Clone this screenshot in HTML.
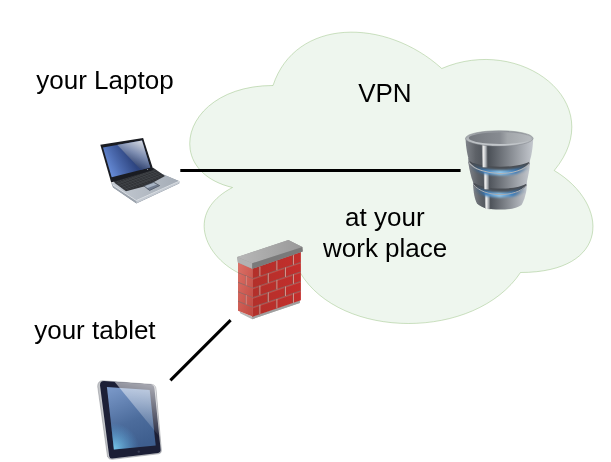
<!DOCTYPE html>
<html><head><meta charset="utf-8">
<style>
html,body{margin:0;padding:0;background:#fff;width:611px;height:462px;overflow:hidden}
svg{display:block;will-change:transform}
text{font-family:"Liberation Sans",sans-serif;fill:#000}
</style></head><body>
<svg width="611" height="462" viewBox="0 0 611 462">
<defs>
<linearGradient id="scr" gradientUnits="userSpaceOnUse" x1="104" y1="165" x2="128" y2="152">
<stop offset="0" stop-color="#6a90dc"/><stop offset="0.5" stop-color="#4a68ac"/><stop offset="1" stop-color="#2e4580"/>
</linearGradient>
<linearGradient id="glare" gradientUnits="userSpaceOnUse" x1="142" y1="141" x2="130" y2="166">
<stop offset="0" stop-color="#d4d8e0"/><stop offset="0.5" stop-color="#7c8cb0"/><stop offset="1" stop-color="#283a68"/>
</linearGradient>
<linearGradient id="base" x1="0" y1="0" x2="1" y2="0">
<stop offset="0" stop-color="#c4cad2"/><stop offset="1" stop-color="#a4acb6"/>
</linearGradient>
<linearGradient id="dbbody1" gradientUnits="userSpaceOnUse" x1="465.5" y1="0" x2="533.2" y2="0">
<stop offset="0" stop-color="#80848a"/><stop offset="0.15" stop-color="#5e6268"/><stop offset="0.33" stop-color="#4a4f56"/><stop offset="1" stop-color="#c4c8ce"/>
</linearGradient>
<linearGradient id="dbbody2" gradientUnits="userSpaceOnUse" x1="468.3" y1="0" x2="530" y2="0">
<stop offset="0" stop-color="#80848a"/><stop offset="0.15" stop-color="#5e6268"/><stop offset="0.31" stop-color="#4a4f56"/><stop offset="1" stop-color="#c4c8ce"/>
</linearGradient>
<linearGradient id="dbbody3" gradientUnits="userSpaceOnUse" x1="473" y1="0" x2="527" y2="0">
<stop offset="0" stop-color="#80848a"/><stop offset="0.15" stop-color="#5e6268"/><stop offset="0.3" stop-color="#4a4f56"/><stop offset="1" stop-color="#c4c8ce"/>
</linearGradient>
<linearGradient id="dbtop" x1="0" y1="0" x2="1" y2="0">
<stop offset="0" stop-color="#74787e"/><stop offset="0.5" stop-color="#878b91"/><stop offset="0.62" stop-color="#a2a6aa"/><stop offset="1" stop-color="#b6babe"/>
</linearGradient>
<linearGradient id="dbstripe" x1="0" y1="0" x2="1" y2="0">
<stop offset="0" stop-color="#8a8e92"/><stop offset="0.3" stop-color="#eeeeee"/><stop offset="0.6" stop-color="#b8bcc0"/><stop offset="1" stop-color="#55595f"/>
</linearGradient>
<radialGradient id="glow" cx="0.5" cy="0.5" r="0.5">
<stop offset="0" stop-color="#8ed0ff"/><stop offset="0.6" stop-color="#3a84c8"/><stop offset="1" stop-color="#3a84c8" stop-opacity="0"/>
</radialGradient>
<linearGradient id="brickF" x1="0" y1="0" x2="1" y2="0">
<stop offset="0" stop-color="#b2302a"/><stop offset="1" stop-color="#c42e2c"/>
</linearGradient>
<linearGradient id="brickL" x1="0" y1="0" x2="1" y2="1">
<stop offset="0" stop-color="#dc7268"/><stop offset="1" stop-color="#c04840"/>
</linearGradient>
<linearGradient id="capTop" gradientUnits="userSpaceOnUse" x1="240" y1="0" x2="300" y2="0">
<stop offset="0" stop-color="#b6b6b6"/><stop offset="1" stop-color="#9a9a9a"/>
</linearGradient>
<linearGradient id="tscr" gradientUnits="userSpaceOnUse" x1="110" y1="388" x2="135" y2="448">
<stop offset="0" stop-color="#7a98c8"/><stop offset="0.6" stop-color="#4c6c9c"/><stop offset="1" stop-color="#3e5e8e"/>
</linearGradient>
<radialGradient id="tcyan" gradientUnits="userSpaceOnUse" cx="113" cy="449" r="26">
<stop offset="0" stop-color="#7cd0f0" stop-opacity="0.95"/><stop offset="1" stop-color="#5aa8e0" stop-opacity="0"/>
</radialGradient>
<linearGradient id="tglare" gradientUnits="userSpaceOnUse" x1="150" y1="384" x2="138" y2="430">
<stop offset="0" stop-color="#ffffff" stop-opacity="0.62"/><stop offset="1" stop-color="#ffffff" stop-opacity="0.08"/>
</linearGradient>
<linearGradient id="glowL1" gradientUnits="userSpaceOnUse" x1="474" y1="0" x2="526" y2="0">
<stop offset="0" stop-color="#2a5a8a" stop-opacity="0.2"/><stop offset="0.2" stop-color="#3a7cbc"/><stop offset="0.5" stop-color="#90ccf4"/><stop offset="0.8" stop-color="#3a7cbc"/><stop offset="1" stop-color="#2a5a8a" stop-opacity="0.2"/>
</linearGradient>
<linearGradient id="glowL2" gradientUnits="userSpaceOnUse" x1="477" y1="0" x2="522" y2="0">
<stop offset="0" stop-color="#2a5a8a" stop-opacity="0.2"/><stop offset="0.2" stop-color="#3a7cbc"/><stop offset="0.5" stop-color="#90ccf4"/><stop offset="0.8" stop-color="#3a7cbc"/><stop offset="1" stop-color="#2a5a8a" stop-opacity="0.2"/>
</linearGradient>
<filter id="blur1" x="-20%" y="-200%" width="140%" height="500%"><feGaussianBlur stdDeviation="0.8"/></filter>
<filter id="blur05" x="-10%" y="-10%" width="120%" height="120%"><feGaussianBlur stdDeviation="0.5"/></filter>
<linearGradient id="dbrim" x1="0" y1="0" x2="0" y2="1">
<stop offset="0" stop-color="#8e9298"/><stop offset="0.6" stop-color="#b4b8bc"/><stop offset="1" stop-color="#c8ccd0"/>
</linearGradient>
</defs>

<!-- cloud -->
<g transform="translate(160.5,0.5)">
<path d="M112.5 85 C22.5 85 0 170 72 187 C0 224.4 81 306 139.5 272 C180 340 315 340 360 272 C450 272 450 204 393.75 170 C450 102 360 34 281.25 68 C225 17 135 17 112.5 85 Z" fill="#d5e8d4" stroke="#82b366" fill-opacity="0.4" stroke-opacity="0.4"/>
</g>
<path d="M180.3 170.5 H460.6" stroke="#000" stroke-width="3"/>
<path d="M170.4 380.4 L230.6 320.1" stroke="#000" stroke-width="3"/>

<!-- laptop -->
<g id="laptop">
<polygon points="111.3,183.3 153.4,170.2 179.4,181.2 179.2,183.4 136.4,203.4 113,187.6" fill="#8a929c"/>
<polygon points="111.5,183.3 153.4,170.2 179.4,181.2 136.3,200.8 113.3,185.4" fill="url(#base)"/>
<polygon points="113.3,185.4 136.3,200.8 136.4,203.2 113.2,187.6" fill="#9ca4ae"/>
<polygon points="136.3,200.8 179.4,181.2 179.3,183.2 136.4,203.2" fill="#c4cad2"/>
<path d="M112.6 185 L136.3 200.6 L179.4 181.1" stroke="#eef0f4" stroke-width="0.7" fill="none"/>
<polygon points="113.8,181 153.2,167.8 165,176.1 153.5,182.2 144,186.5 126,191.3 114.8,183" fill="#303236"/>
<path d="M116.80 184.10 L155.56 170.10 M119.10 185.90 L157.92 171.60 M121.40 187.70 L160.28 173.10 M123.70 189.50 L162.64 174.60 M117.26 181.32 L128.79 190.21 M120.03 180.34 L131.57 189.13 M122.79 179.36 L134.36 188.04 M125.56 178.39 L137.14 186.96 M128.32 177.41 L139.93 185.87 M131.09 176.43 L142.71 184.79 M133.85 175.45 L145.50 183.70 M136.61 174.47 L148.29 182.61 M139.38 173.49 L151.07 181.53 M142.14 172.51 L153.86 180.44 M144.91 171.54 L156.64 179.36 M147.67 170.56 L159.43 178.27 M150.44 169.58 L162.21 177.19" stroke="#4c5056" stroke-width="0.45" fill="none"/>
<polygon points="143.9,185.9 153.7,182.3 159.6,185.6 149.6,190.4" fill="#a8b4c4" stroke="#3a404a" stroke-width="0.7"/>
<polygon points="146.5,188.4 156.5,184.7 159.6,185.6 149.6,190.4" fill="#5a6478" opacity="0.7"/>
<polygon points="100.3,144.8 143.1,138.1 153.4,169.9 111.2,182.5" fill="#1a1c22"/>
<polygon points="103,147.5 142,140.5 150.2,167.6 111.7,177.3" fill="url(#scr)"/>
<clipPath id="lscr"><polygon points="103,147.5 142,140.5 150.2,167.6 111.7,177.3"/></clipPath>
<polygon clip-path="url(#lscr)" points="115.5,143 145,138 155,170 141,170" fill="url(#glare)" filter="url(#blur05)"/>
<circle cx="147.6" cy="169.4" r="0.5" fill="#e0e4ea" opacity="0.8"/>
</g>

<!-- database -->
<g id="db">
<path d="M473 178 L473 184.4 C473.5 192 474.5 199 477 203.5 C481 208 490 209.6 499.5 209.6 C509 209.6 517 208.5 521.5 205 C524.5 200 526.5 192 527 185.2 L527 178 Z" fill="url(#dbbody3)"/>
<polygon points="484.6,190 490,190.3 490.4,209.3 485.2,209" fill="url(#dbstripe)"/>
<path d="M473 184.4 C484 198 516 198 527 185.2 C516 172 484 172 473 184.4 Z" fill="#4a4e54"/>
<path d="M476 188.5 C486 197 514 197 524 189" stroke="url(#glowL2)" stroke-width="5" fill="none" filter="url(#blur1)"/>
<path d="M473.2 184.2 C484 198 516 198 526.8 185" stroke="#a8acb2" stroke-width="1" fill="none"/>
<path d="M468.3 158 L468.3 162.7 C469.5 170 471 177 473 182 C484 190.5 516 190.5 526.5 183.5 C528 177 529.5 170 530 163.6 L530 158 Z" fill="url(#dbbody2)"/>
<polygon points="483.5,168 489,168.3 489.5,189.5 484.2,189.2" fill="url(#dbstripe)"/>
<path d="M468.3 162.7 C480 177 519 177 530 163.6 C519 150 480 150 468.3 162.7 Z" fill="#4a4e54"/>
<path d="M472 166 C483 175 516 175 527 166.5" stroke="url(#glowL1)" stroke-width="5" fill="none" filter="url(#blur1)"/>
<path d="M468.8 162.3 C480 177 519 177 529.6 163.3" stroke="#b0b4b8" stroke-width="1.1" fill="none"/>
<path d="M465.5 138.4 C466 148 467.5 156 469.3 160.8 C480 168.5 519 168.5 529.5 161.5 C531.5 156 532.8 148 533.2 138.4 Z" fill="url(#dbbody1)"/>
<polygon points="481.8,145 487.4,145.5 487.8,167.5 482.4,167.2" fill="url(#dbstripe)"/>
<ellipse cx="499.3" cy="138.4" rx="33.8" ry="7.7" fill="url(#dbrim)" stroke="#80848a" stroke-width="0.5"/>
<ellipse cx="499.9" cy="138.1" rx="31.1" ry="5.9" fill="url(#dbtop)"/>
</g>

<!-- firewall -->
<g id="fw">
<polygon points="239.8,311.5 252.2,316.5 299.8,300.3 299.8,303 252.2,319.2 240.2,313.2" fill="#b8b8b8"/>
<polygon points="252.2,316.5 299.8,300.3 299.8,303 252.2,319.2" fill="#a0a0a0"/>
<g transform="matrix(1,-0.34,0,1,0,86.15)">
<rect x="252.2" y="266.80" width="48.7" height="49.70" fill="url(#brickF)"/>
<line x1="252.2" y1="278.34" x2="300.9" y2="278.34" stroke="#8a6462" stroke-width="0.9" opacity="0.9"/>
<line x1="252.2" y1="279.14" x2="300.9" y2="279.14" stroke="#d8847c" stroke-width="0.5" opacity="0.6"/>
<line x1="252.2" y1="287.88" x2="300.9" y2="287.88" stroke="#8a6462" stroke-width="0.9" opacity="0.9"/>
<line x1="252.2" y1="288.68" x2="300.9" y2="288.68" stroke="#d8847c" stroke-width="0.5" opacity="0.6"/>
<line x1="252.2" y1="297.42" x2="300.9" y2="297.42" stroke="#8a6462" stroke-width="0.9" opacity="0.9"/>
<line x1="252.2" y1="298.22" x2="300.9" y2="298.22" stroke="#d8847c" stroke-width="0.5" opacity="0.6"/>
<line x1="252.2" y1="306.96" x2="300.9" y2="306.96" stroke="#8a6462" stroke-width="0.9" opacity="0.9"/>
<line x1="252.2" y1="307.76" x2="300.9" y2="307.76" stroke="#d8847c" stroke-width="0.5" opacity="0.6"/>
<line x1="259.20" y1="268.80" x2="259.20" y2="278.34" stroke="#8c4a44" stroke-width="0.8"/>
<line x1="259.90" y1="268.80" x2="259.90" y2="278.34" stroke="#d8a098" stroke-width="0.8"/>
<line x1="276.20" y1="268.80" x2="276.20" y2="278.34" stroke="#8c4a44" stroke-width="0.8"/>
<line x1="276.90" y1="268.80" x2="276.90" y2="278.34" stroke="#d8a098" stroke-width="0.8"/>
<line x1="292.80" y1="268.80" x2="292.80" y2="278.34" stroke="#8c4a44" stroke-width="0.8"/>
<line x1="293.50" y1="268.80" x2="293.50" y2="278.34" stroke="#d8a098" stroke-width="0.8"/>
<line x1="267.60" y1="278.34" x2="267.60" y2="287.88" stroke="#8c4a44" stroke-width="0.8"/>
<line x1="268.30" y1="278.34" x2="268.30" y2="287.88" stroke="#d8a098" stroke-width="0.8"/>
<line x1="284.80" y1="278.34" x2="284.80" y2="287.88" stroke="#8c4a44" stroke-width="0.8"/>
<line x1="285.50" y1="278.34" x2="285.50" y2="287.88" stroke="#d8a098" stroke-width="0.8"/>
<line x1="259.20" y1="287.88" x2="259.20" y2="297.42" stroke="#8c4a44" stroke-width="0.8"/>
<line x1="259.90" y1="287.88" x2="259.90" y2="297.42" stroke="#d8a098" stroke-width="0.8"/>
<line x1="276.20" y1="287.88" x2="276.20" y2="297.42" stroke="#8c4a44" stroke-width="0.8"/>
<line x1="276.90" y1="287.88" x2="276.90" y2="297.42" stroke="#d8a098" stroke-width="0.8"/>
<line x1="292.80" y1="287.88" x2="292.80" y2="297.42" stroke="#8c4a44" stroke-width="0.8"/>
<line x1="293.50" y1="287.88" x2="293.50" y2="297.42" stroke="#d8a098" stroke-width="0.8"/>
<line x1="267.60" y1="297.42" x2="267.60" y2="306.96" stroke="#8c4a44" stroke-width="0.8"/>
<line x1="268.30" y1="297.42" x2="268.30" y2="306.96" stroke="#d8a098" stroke-width="0.8"/>
<line x1="284.80" y1="297.42" x2="284.80" y2="306.96" stroke="#8c4a44" stroke-width="0.8"/>
<line x1="285.50" y1="297.42" x2="285.50" y2="306.96" stroke="#d8a098" stroke-width="0.8"/>
<line x1="259.20" y1="306.96" x2="259.20" y2="316.50" stroke="#8c4a44" stroke-width="0.8"/>
<line x1="259.90" y1="306.96" x2="259.90" y2="316.50" stroke="#d8a098" stroke-width="0.8"/>
<line x1="276.20" y1="306.96" x2="276.20" y2="316.50" stroke="#8c4a44" stroke-width="0.8"/>
<line x1="276.90" y1="306.96" x2="276.90" y2="316.50" stroke="#d8a098" stroke-width="0.8"/>
<line x1="292.80" y1="306.96" x2="292.80" y2="316.50" stroke="#8c4a44" stroke-width="0.8"/>
<line x1="293.50" y1="306.96" x2="293.50" y2="316.50" stroke="#d8a098" stroke-width="0.8"/>
</g>
<g transform="matrix(1,0.4,0,1,0,-100.88)">
<rect x="238" y="266.80" width="14.5" height="49.70" fill="url(#brickL)"/>
<line x1="238" y1="278.34" x2="252.2" y2="278.34" stroke="#8e6a68" stroke-width="0.9" opacity="0.9"/>
<line x1="238" y1="287.88" x2="252.2" y2="287.88" stroke="#8e6a68" stroke-width="0.9" opacity="0.9"/>
<line x1="238" y1="297.42" x2="252.2" y2="297.42" stroke="#8e6a68" stroke-width="0.9" opacity="0.9"/>
<line x1="238" y1="306.96" x2="252.2" y2="306.96" stroke="#8e6a68" stroke-width="0.9" opacity="0.9"/>
<line x1="245.60" y1="278.34" x2="245.60" y2="287.88" stroke="#9a5a56" stroke-width="0.7"/>
<line x1="246.20" y1="278.34" x2="246.20" y2="287.88" stroke="#eaa8a0" stroke-width="0.6"/>
<line x1="245.60" y1="297.42" x2="245.60" y2="306.96" stroke="#9a5a56" stroke-width="0.7"/>
<line x1="246.20" y1="297.42" x2="246.20" y2="306.96" stroke="#eaa8a0" stroke-width="0.6"/>
</g>
<polygon points="237.2,257.1 288.4,240.1 302.4,247 302.7,251.6 252.2,268.8 237.9,262.6" fill="#9c9c9c"/>
<polygon points="237.2,257.1 288.4,240.1 302.4,247 252.2,263.3" fill="url(#capTop)"/>
<polygon points="237.2,257.1 252.2,263.3 252.2,268.8 237.9,262.6" fill="#b2b2b2"/>
<polygon points="252.2,263.3 302.4,247 302.7,251.6 252.2,268.8" fill="#7a7a7a"/>
</g>
<!-- tablet -->
<g id="tab">
<path d="M97.7 386.5 Q97.6 381 102.5 380.7 L151.5 384.4 Q155.8 384.8 156 389.5 L161.4 450.5 Q161.5 453.4 158.5 453.8 L112.5 459.3 Q109.2 459.7 107.6 457 Z" fill="#c4c6ca" stroke="#707278" stroke-width="0.4"/>
<path d="M100 385.2 Q100 381 104 381 L150.8 384.6 Q154.2 385 154.5 388.8 L160.7 450.2 Q160.8 452.6 158.2 452.9 L112.2 458.5 Q109.8 458.8 109.2 456.2 Z" fill="#1c1f36"/>
<polygon points="106.9,386.9 149.7,389.9 155.7,445.6 113.9,449.6" fill="url(#tscr)"/>
<polygon points="106.9,386.9 149.7,389.9 155.7,445.6 113.9,449.6" fill="url(#tcyan)"/>
<clipPath id="tclip"><path d="M98.3 386.5 Q98.2 381.2 102.5 381 L151.5 384.6 Q155.6 385 155.8 389.5 L161.2 450.5 Q161.3 453.2 158.5 453.6 L112.5 459 Q109.5 459.4 108.2 456.8 Z"/></clipPath>
<polygon clip-path="url(#tclip)" points="111.5,378 170,378 170,442 162.3,440" fill="url(#tglare)"/>
<circle cx="138.8" cy="451.6" r="1.2" fill="#3a3e56"/>
</g>

<text x="36.3" y="88.8" font-size="26">your Laptop</text>
<text x="358.2" y="102.3" font-size="26">VPN</text>
<text x="345.1" y="226" font-size="26">at your</text>
<text x="323" y="256.8" font-size="26">work place</text>
<text x="34.2" y="338.6" font-size="26">your tablet</text>
</svg>
</body></html>
